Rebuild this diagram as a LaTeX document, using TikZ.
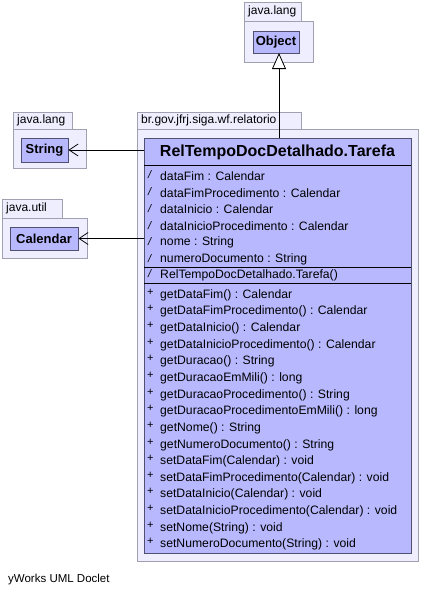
\documentclass[tikz,border=0pt]{standalone}
\usepackage{fontspec}
\setmainfont{Liberation Sans}
\usetikzlibrary{arrows.meta}
\definecolor{clsfill}{RGB}{184,184,255}
\definecolor{clsline}{RGB}{80,80,112}
\definecolor{pkgfill}{RGB}{238,238,255}
\definecolor{pkgline}{RGB}{160,160,176}
\tikzset{
  pkg/.style={draw=pkgline, fill=pkgfill, line width=0.8pt},
  pkglabel/.style={anchor=west, inner sep=0pt, font=\fontsize{12}{14}\selectfont},
  cls/.style={draw=clsline, fill=clsfill, line width=0.8pt, inner sep=0pt},
  clsname/.style={font=\bfseries\fontsize{13}{15}\selectfont},
  member/.style={anchor=west, inner sep=0pt, font=\fontsize{12.2}{14}\selectfont},
  vis/.style={anchor=west, inner sep=0pt, font=\fontsize{11}{12}\selectfont},
  sep/.style={draw=black, line width=0.8pt},
  dep/.style={draw=black, line width=0.8pt, -{Straight Barb[length=9pt,width=12pt,line width=0.8pt]}},
  gen/.style={draw=black, line width=0.8pt, -{Triangle[open,length=16pt,width=14pt,fill=white,line width=0.8pt]}}
}
\begin{document}
\begin{tikzpicture}[x=1pt,y=-1pt]
\useasboundingbox (0,0) rectangle (421,598);
\fill[white] (0,0) rectangle (421,598);

% java.lang (Object)
\draw[pkg] (244,2) rectangle (301,21);
\draw[pkg] (244,21) rectangle (313,62);
\node[pkglabel] at (248,11.5) {java.lang};
\node[cls, clsname, minimum width=46pt, minimum height=22pt] (object) at (276,42) {Object};

% java.lang (String)
\draw[pkg] (13,112) rectangle (72,129);
\draw[pkg] (13,129) rectangle (86,168);
\node[pkglabel] at (17,120.5) {java.lang};
\node[cls, clsname, minimum width=47pt, minimum height=24pt] (string) at (44.5,150) {String};

% java.util (Calendar)
\draw[pkg] (2,199) rectangle (62,218);
\draw[pkg] (2,218) rectangle (87,258);
\node[pkglabel] at (6,208.5) {java.util};
\node[cls, clsname, minimum width=68pt, minimum height=23pt] (calendar) at (44,238.5) {Calendar};

% br.gov.jfrj.siga.wf.relatorio
\draw[pkg] (137,112) rectangle (301,129);
\draw[pkg] (137,129) rectangle (418,561);
\node[pkglabel] at (141,120.5) {br.gov.jfrj.siga.wf.relatorio};

% Class Tarefa
\node[cls, minimum width=267pt, minimum height=415pt] (tarefa) at (277.5,345.5) {};
\node[font=\bfseries\fontsize{16}{18}\selectfont, inner sep=0pt] (title) at (277.5,152) {RelTempoDocDetalhado.Tarefa};
\draw[sep] (144,165) -- (411,165);
\draw[sep] (144,267) -- (411,267);
\draw[sep] (144,283) -- (411,283);

% attributes
\foreach \t [count=\i from 0] in {dataFim : Calendar, dataFimProcedimento : Calendar, dataInicio : Calendar, dataInicioProcedimento : Calendar, nome : String, numeroDocumento : String}{
  \node[vis] at (148,176+16.7*\i-1) {\textit{/}};
  \node[member] at (160,176+16.7*\i) {\t};
}
% constructor
\node[vis] at (148,274) {\textit{/}};
\node[member] at (160,275) {RelTempoDocDetalhado.Tarefa()};

% methods
\foreach \t [count=\i from 0] in {getDataFim() : Calendar, getDataFimProcedimento() : Calendar, getDataInicio() : Calendar, getDataInicioProcedimento() : Calendar, getDuracao() : String, getDuracaoEmMili() : long, getDuracaoProcedimento() : String, getDuracaoProcedimentoEmMili() : long, getNome() : String, getNumeroDocumento() : String, setDataFim(Calendar) : void, setDataFimProcedimento(Calendar) : void, setDataInicio(Calendar) : void, setDataInicioProcedimento(Calendar) : void, setNome(String) : void, setNumeroDocumento(String) : void}{
  \node[vis] at (147,295+16.65*\i-3) {+};
  \node[member] at (160,295+16.65*\i) {\t};
}

% connectors
\draw[gen] (tarefa.north -| 279,0) -- (279,53);
\draw[dep] (tarefa.west |- string.east) -- (string.east);
\draw[dep] (tarefa.west |- calendar.east) -- (calendar.east);

% footer
\node[anchor=west, inner sep=0pt, font=\fontsize{11.5}{13}\selectfont] (footer) at (8,580) {yWorks UML Doclet};
\end{tikzpicture}
\end{document}
